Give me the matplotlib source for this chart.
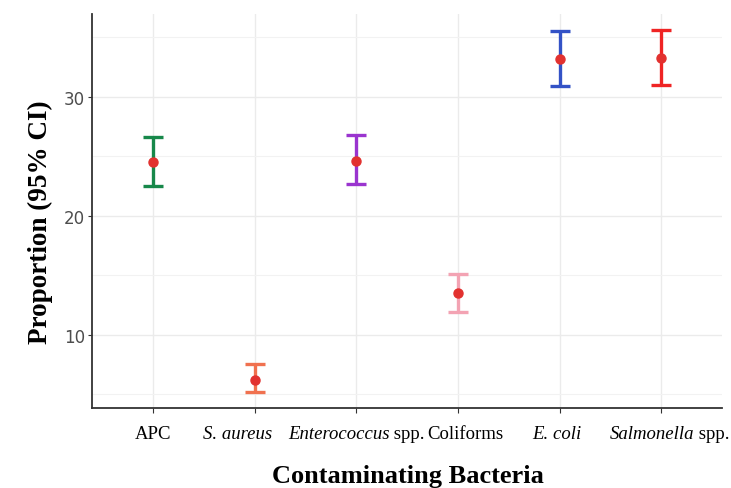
import matplotlib
matplotlib.use("Agg")
import matplotlib.pyplot as plt
from matplotlib.ticker import MultipleLocator

# values
categories = ["APC", "S. aureus", "Enterococcus spp.", "Coliforms", "E. coli", "Salmonella spp."]
# each tick label split into (text, style) pieces: genus names are italic
label_parts = [
    [("APC", "normal")],
    [("S. aureus", "italic")],
    [("Enterococcus", "italic"), (" spp.", "normal")],
    [("Coliforms", "normal")],
    [("E. coli", "italic")],
    [("Salmonella", "italic"), (" spp.", "normal")],
]
proportion = [24.5, 6.2, 24.6, 13.5, 33.2, 33.3]
ci_low = [22.5, 5.2, 22.7, 11.9, 30.9, 31.0]
ci_high = [26.6, 7.5, 26.8, 15.1, 35.5, 35.6]
bar_colors = ["#17884a", "#f0714f", "#9a34cf", "#f3a3b3", "#3352c6", "#ef2424"]
# horizontal nudge of each tick label (points), as placed in the original figure
label_nudge = [0, -12, 0, 5, -2, 6]

fig = plt.figure(figsize=(7.31, 4.89), dpi=100)
ax = fig.add_axes([0.126, 0.164, 0.862, 0.805])

xs = list(range(1, len(categories) + 1))
for x, m, lo, hi, c in zip(xs, proportion, ci_low, ci_high, bar_colors):
    ax.errorbar(x, m, yerr=[[m - lo], [hi - m]], fmt="none", ecolor=c,
                elinewidth=2.4, capsize=7, capthick=2.4, zorder=3)
    ax.plot(x, m, "o", color="#e2312f", markersize=6.5, zorder=4)

ax.set_xlim(0.4, 6.6)
ax.set_ylim(3.85, 36.95)
ax.set_xticks(xs)
ax.yaxis.set_major_locator(MultipleLocator(10))
ax.yaxis.set_minor_locator(MultipleLocator(5))
ax.tick_params(axis="y", labelsize=12, labelcolor="#4d4d4d", color="#333333", length=3, pad=2)
ax.tick_params(axis="x", color="#333333", length=3.5, labelbottom=False)
ax.tick_params(axis="y", which="minor", length=0)

ax.grid(True, which="major", color="#ebebeb", linewidth=1.0)
ax.grid(True, which="minor", axis="y", color="#f2f2f2", linewidth=0.8)
ax.set_axisbelow(True)

for side in ["top", "right"]:
    ax.spines[side].set_visible(False)
for side in ["left", "bottom"]:
    ax.spines[side].set_color("#333333")
    ax.spines[side].set_linewidth(1.3)

# mixed italic / upright tick labels, built piece by piece
renderer = fig.canvas.get_renderer()
trans = ax.get_xaxis_transform()
for x, parts, nudge in zip(xs, label_parts, label_nudge):
    pieces = []
    for text, style in parts:
        t = ax.annotate(text, xy=(x, 0), xycoords=trans, xytext=(0, -22),
                        textcoords="offset points", ha="left", va="baseline",
                        fontfamily="Liberation Serif", fontstyle=style,
                        fontsize=13.5, color="black", annotation_clip=False)
        pieces.append(t)
    widths = [p.get_window_extent(renderer).width * 72 / fig.dpi for p in pieces]
    start = nudge - sum(widths) / 2
    for p, w in zip(pieces, widths):
        p.set_position((start, -22))
        start += w

ax.set_xlabel("Contaminating Bacteria", fontfamily="Liberation Serif", fontweight="bold",
              fontsize=19)
ax.set_ylabel("Proportion (95% CI)", fontfamily="Liberation Serif", fontweight="bold",
              fontsize=19.5)
ax.xaxis.set_label_coords(0.502, -0.143)
ax.yaxis.set_label_coords(-0.062, 0.475)

fig.savefig("out.png", dpi=100)
